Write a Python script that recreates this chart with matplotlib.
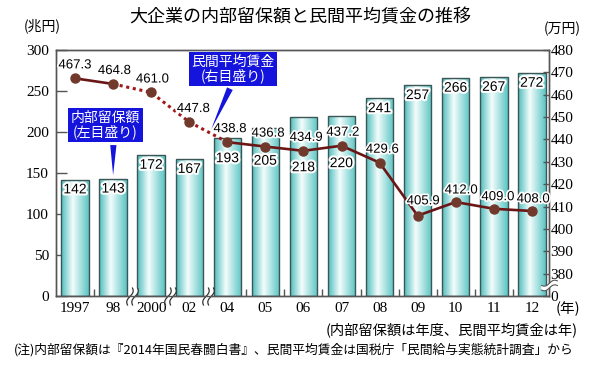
import numpy as np
import matplotlib
matplotlib.use('Agg')
import matplotlib.pyplot as plt
from matplotlib.colors import LinearSegmentedColormap
from matplotlib.path import Path
import matplotlib.patheffects as pe

# データ
years = ['1997', '98', '2000', '02', '04', '05', '06', '07', '08', '09', '10', '11', '12']
reserves = [142, 143, 172, 167, 193, 205, 218, 220, 241, 257, 266, 267, 272]   # 兆円（左目盛り）
wages = [467.3, 464.8, 461.0, 447.8, 438.8, 436.8, 434.9, 437.2, 429.6, 405.9, 412.0, 409.0, 408.0]  # 万円（右目盛り）
left_ticks = [0, 50, 100, 150, 200, 250, 300]
right_ticks = [380, 390, 400, 410, 420, 430, 440, 450, 460, 470, 480]

JP = ['Noto Sans CJK JP', 'DejaVu Sans']
SERIF = ['Liberation Serif', 'Noto Sans CJK JP']
SANS = ['Liberation Sans', 'DejaVu Sans']

teal = LinearSegmentedColormap.from_list(
    'bar', [(0, '#4fbdbd'), (0.42, '#f4fdfd'), (1, '#5cc4c4')])


def squiggle_paths(horizontal=False):
    t = np.linspace(-1, 1, 15)
    curves = []
    for dx in (-0.28, 0.28):
        xs = 0.25 * t + 0.22 * np.sin(np.pi * t) + dx
        ys = t
        curves.append((xs, ys))
    # 線
    verts, codes = [], []
    for xs, ys in curves:
        for i, (a, b) in enumerate(zip(xs, ys)):
            verts.append((b, a) if horizontal else (a, b))
            codes.append(Path.MOVETO if i == 0 else Path.LINETO)
    lines = Path(verts, codes)
    # 白抜き
    (x1, y1), (x2, y2) = curves
    fx = np.concatenate([x1, x2[::-1]])
    fy = np.concatenate([y1, y2[::-1]])
    fill = Path([(b, a) if horizontal else (a, b) for a, b in zip(fx, fy)] + [(0, 0)],
                [Path.MOVETO] + [Path.LINETO] * (len(fx) - 1) + [Path.CLOSEPOLY])
    return fill, lines


fig = plt.figure(figsize=(6, 3.7), dpi=100)
ax = fig.add_axes([0.0933, 0.2, 0.8217, 0.665])
ax2 = ax.twinx()

x = np.arange(len(years))

# 棒グラフ（グラデーション）
bars = ax.bar(x, reserves, width=0.72, facecolor='none', edgecolor='#3d5555', linewidth=1.0, zorder=3)
grad = np.linspace(0, 1, 64).reshape(1, -1)
for b in bars:
    im = ax.imshow(grad, extent=[b.get_x(), b.get_x() + b.get_width(), 0, b.get_height()],
                   aspect='auto', cmap=teal, zorder=2, interpolation='bicubic')
    im.set_clip_path(b)

# 棒ラベル
label_y = {4: 168, 5: 165, 6: 157, 7: 162}
for i, v in enumerate(reserves):
    y = label_y.get(i, v - 12)
    ax.text(i, y, str(v), ha='center', va='center', fontsize=10, family=SANS, zorder=6,
            path_effects=[pe.withStroke(linewidth=3, foreground='white')])

ax.set_xlim(-0.5, 12.45)
ax.set_ylim(0, 300)
ax.set_yticks(left_ticks)
ax.set_xticks(x)
ax.set_xticklabels(years)
minor = [i + 0.5 for i in range(12) if i not in (1, 2, 3)]
ax.set_xticks(minor, minor=True)
ax.tick_params(axis='x', which='major', length=0, pad=4, labelsize=11)
ax.tick_params(axis='x', which='minor', direction='in', length=5, width=1, color='#555555')
ax.tick_params(axis='y', direction='in', length=8, width=1, color='#555555', labelsize=11, pad=5)
for lab in ax.get_xticklabels() + ax.get_yticklabels():
    lab.set_family(SERIF)

# 折れ線（民間平均賃金）
ax2.plot(x[:2], wages[:2], color='#6b1616', lw=1.9, zorder=4)
ax2.plot(x[1:5], wages[1:5], color='#a01818', lw=2.2, ls=(0, (1, 1.2)), zorder=4)
ax2.plot(x[4:], wages[4:], color='#6b1616', lw=1.9, zorder=4)
ax2.plot(x, wages, 'o', color='#71392c', ms=6.5, zorder=5)
offsets = [(0, 5), (1, 5), (1, 5), (3, 5), (2, 5), (2, 5), (2, 5), (1, 5), (2, 5), (4, 6), (4, 4), (3, 4), (1, 4)]
for i, v in enumerate(wages):
    ax2.annotate(f'{v:.1f}', (i, v), xytext=offsets[i], textcoords='offset points',
                 ha='center', va='bottom', fontsize=9.5, family=SANS, zorder=7,
                 path_effects=[pe.withStroke(linewidth=2.5, foreground='white')])

ax2.set_ylim(370, 480)
ax2.set_yticks([370] + right_ticks)
ax2.set_yticklabels(['0'] + [str(t) for t in right_ticks])
ax2.tick_params(axis='y', direction='in', length=4, width=1, color='#555555', labelsize=11, pad=1)
for lab in ax2.get_yticklabels():
    lab.set_family(SERIF)

for a in (ax, ax2):
    for s in a.spines.values():
        s.set_color('#555555')
        s.set_linewidth(1.0)

# 波線（省略記号）
fill_v, lines_v = squiggle_paths()
for bx in (1.5, 2.5, 3.5):
    ax.plot(bx, 0, marker=fill_v, ms=13, mfc='white', mec='none', clip_on=False, zorder=8)
    ax.plot(bx, 0, marker=lines_v, ms=13, mfc='none', mec='#333333', mew=0.9, clip_on=False, zorder=9)
fill_h, lines_h = squiggle_paths(horizontal=True)
ax2.plot(12.45, 375, marker=fill_h, ms=12, mfc='white', mec='none', clip_on=False, zorder=8)
ax2.plot(12.45, 375, marker=lines_h, ms=12, mfc='none', mec='#555555', mew=0.8, clip_on=False, zorder=9)

# 吹き出し（右目盛りの座標で配置）
blue = '#1414dc'
ax2.annotate('内部留保額\n(左目盛り)', xy=(1.0, 370 + 144 * 110 / 300), xytext=(0.79, 446.4),
             ha='center', va='center', fontsize=10, color='white', family=JP, linespacing=1.0,
             bbox=dict(boxstyle='square,pad=0.2', fc=blue, ec='none'),
             arrowprops=dict(arrowstyle='wedge,tail_width=0.45,shrink_factor=0.5', fc=blue, ec='none',
                             relpos=(0.62, 0.05)), zorder=10)
ax2.annotate('民間平均賃金\n(右目盛り)', xy=(3.55, 443.5), xytext=(4.15, 471.5),
             ha='center', va='center', fontsize=10, color='white', family=JP, linespacing=1.0,
             bbox=dict(boxstyle='square,pad=0.2', fc=blue, ec='none'),
             arrowprops=dict(arrowstyle='wedge,tail_width=0.45,shrink_factor=0.5', fc=blue, ec='none',
                             relpos=(0.5, 0.05)), zorder=10)

# 文字
fig.text(0.5, 0.952, '大企業の内部留保額と民間平均賃金の推移', ha='center', va='center',
         fontsize=13, family=JP)
fig.text(0.07, 0.93, '(兆円)', ha='center', va='center', fontsize=10, family=JP)
fig.text(0.937, 0.922, '(万円)', ha='center', va='center', fontsize=10, family=JP)
fig.text(0.926, 0.166, '(年)', ha='left', va='center', fontsize=10.5, family=JP)
fig.text(0.963, 0.108, '(内部留保額は年度、民間平均賃金は年)', ha='right', va='center',
         fontsize=10.3, family=JP)
fig.text(0.49, 0.054, '(注)内部留保額は『2014年国民春闘白書』、民間平均賃金は国税庁「民間給与実態統計調査」から',
         ha='center', va='center', fontsize=9.2, family=JP)

fig.savefig('out.png', dpi=100)
